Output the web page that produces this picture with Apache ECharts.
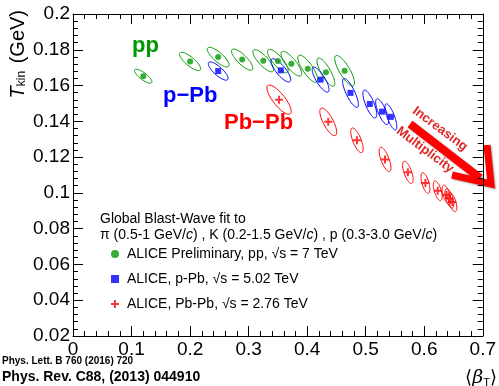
<!DOCTYPE html>
<html>
<head>
<meta charset="utf-8">
<script src="https://cdn.jsdelivr.net/npm/echarts@6/dist/echarts.min.js"></script>
<style>
html, body { margin: 0; padding: 0; background: #fff; }
#chart { width: 499px; height: 386px; }
</style>
</head>
<body>
<div id="chart"></div>
<script>
// pp 7 TeV (multiplicity classes)
var ppBeta = [0.120, 0.200, 0.248, 0.289, 0.325, 0.350, 0.373, 0.401, 0.432, 0.464];
var ppTkin = [0.1652, 0.1735, 0.1759, 0.1745, 0.1739, 0.1737, 0.1722, 0.1694, 0.1675, 0.1683];
var ppErrBeta = [0.0149, 0.0181, 0.0186, 0.0182, 0.0177, 0.0177, 0.0177, 0.0169, 0.0152, 0.0169];
var ppErrT = [0.0039, 0.0051, 0.0055, 0.0059, 0.0062, 0.0065, 0.0069, 0.0076, 0.0079, 0.0085];
var ppRho = [0.8, 0.8, 0.8, 0.8, 0.8, 0.8, 0.8, 0.8, 0.8, 0.8];

// p-Pb 5.02 TeV
var pPbBeta = [0.248, 0.355, 0.423, 0.474, 0.507, 0.528, 0.543];
var pPbTkin = [0.1681, 0.1685, 0.1633, 0.1559, 0.1497, 0.1454, 0.1425];
var pPbErrBeta = [0.0169, 0.0169, 0.0144, 0.0135, 0.0118, 0.0110, 0.0101];
var pPbErrT = [0.0051, 0.0065, 0.0070, 0.0081, 0.0078, 0.0072, 0.0073];
var pPbRho = [0.8, 0.8, 0.8, 0.8, 0.75, 0.75, 0.75];

// Pb-Pb 2.76 TeV (centrality classes)
var PbPbBeta = [0.352, 0.436, 0.485, 0.533, 0.572, 0.602, 0.623, 0.638, 0.643, 0.648];
var PbPbTkin = [0.1521, 0.1397, 0.1294, 0.1187, 0.1115, 0.1055, 0.1012, 0.0989, 0.0969, 0.0949];
var PbPbErrBeta = [0.0208, 0.0144, 0.0106, 0.0101, 0.0090, 0.0076, 0.0076, 0.0076, 0.0076, 0.0076];
var PbPbErrT = [0.0082, 0.0077, 0.0069, 0.0068, 0.0062, 0.0058, 0.0055, 0.0054, 0.0054, 0.0054];
var PbPbRho = [0.8, 0.75, 0.7, 0.7, 0.65, 0.6, 0.6, 0.6, 0.6, 0.6];

var xTicks = [0, 0.1, 0.2, 0.3, 0.4, 0.5, 0.6, 0.7];
var yTicks = [0.02, 0.04, 0.06, 0.08, 0.1, 0.12, 0.14, 0.16, 0.18, 0.2];

var ppName = 'ALICE Preliminary, pp, \u221As = 7 TeV';
var pPbName = 'ALICE, p-Pb, \u221As = 5.02 TeV';
var PbPbName = 'ALICE, Pb-Pb, \u221As = 2.76 TeV';

var green = '#009900';
var blue = '#0000ff';
var red = '#ff0000';
var font = 'Liberation Sans';
var crossIcon = 'path://M3,0H5V3H8V5H5V8H3V5H0V3H3Z';

var chart = echarts.init(document.getElementById('chart'));

function pairs(xs, ys) {
  return xs.map(function (x, i) { return [x, ys[i]]; });
}

function ellipseSeries(xs, ys, ex, ey, rho, color) {
  var data = xs.map(function (x, i) { return [x, ys[i], ex[i], ey[i], rho[i]]; });
  return {
    type: 'custom',
    data: data,
    z: 2,
    silent: true,
    renderItem: function (params, api) {
      var bx = api.value(0), t = api.value(1);
      var sx = api.value(2), sy = api.value(3), r = api.value(4);
      var k = Math.sqrt(1 - r * r);
      var pts = [];
      for (var i = 0; i < 60; i++) {
        var a = i / 60 * Math.PI * 2;
        pts.push(api.coord([bx + sx * Math.cos(a), t + sy * (-r * Math.cos(a) + k * Math.sin(a))]));
      }
      return {
        type: 'polygon',
        shape: { points: pts },
        style: { fill: 'none', stroke: color, lineWidth: 1 }
      };
    }
  };
}

function baseAxis(extra) {
  var ax = {
    type: 'value',
    axisLine: { show: true, onZero: false, lineStyle: { color: '#000', width: 1 } },
    axisTick: { show: true, inside: true, length: 10, lineStyle: { color: '#000' } },
    minorTick: { show: true, splitNumber: 5, length: 5, lineStyle: { color: '#000' } },
    splitLine: { show: false },
    axisLabel: { color: '#000', fontSize: 19, fontFamily: font }
  };
  return Object.assign(ax, extra);
}

var option = {
  animation: false,
  backgroundColor: '#fff',
  grid: { left: 73, right: 10, top: 14, bottom: 50 },
  xAxis: [
    baseAxis({ min: xTicks[0], max: xTicks[xTicks.length - 1], interval: 0.1, position: 'bottom',
      axisLabel: { color: '#000', fontSize: 19, fontFamily: font, margin: 4 } }),
    baseAxis({ min: xTicks[0], max: xTicks[xTicks.length - 1], interval: 0.1, position: 'top',
      axisLabel: { show: false } })
  ],
  yAxis: [
    baseAxis({ min: yTicks[0], max: yTicks[yTicks.length - 1], interval: 0.02, position: 'left',
      axisLabel: { color: '#000', fontSize: 19, fontFamily: font, margin: 3 } }),
    baseAxis({ min: yTicks[0], max: yTicks[yTicks.length - 1], interval: 0.02, position: 'right',
      axisLabel: { show: false } })
  ],
  legend: {
    orient: 'vertical',
    left: 106,
    top: 242,
    itemWidth: 8,
    itemHeight: 8,
    itemGap: 11,
    textStyle: { fontSize: 14, color: '#000', fontFamily: font, padding: [0, 0, 0, 3] },
    data: [
      { name: ppName, icon: 'circle', itemStyle: { color: green } },
      { name: pPbName, icon: 'rect', itemStyle: { color: blue } },
      { name: PbPbName, icon: crossIcon, itemStyle: { color: red } }
    ]
  },
  series: [
    ellipseSeries(ppBeta, ppTkin, ppErrBeta, ppErrT, ppRho, green),
    ellipseSeries(pPbBeta, pPbTkin, pPbErrBeta, pPbErrT, pPbRho, blue),
    ellipseSeries(PbPbBeta, PbPbTkin, PbPbErrBeta, PbPbErrT, PbPbRho, red),
    { name: ppName, type: 'scatter', z: 3, symbol: 'circle', symbolSize: 6,
      itemStyle: { color: green }, data: pairs(ppBeta, ppTkin) },
    { name: pPbName, type: 'scatter', z: 3, symbol: 'rect', symbolSize: 6,
      itemStyle: { color: blue }, data: pairs(pPbBeta, pPbTkin) },
    { name: PbPbName, type: 'scatter', z: 3, symbol: crossIcon, symbolSize: 8,
      itemStyle: { color: red }, data: pairs(PbPbBeta, PbPbTkin) }
  ],
  graphic: [
    // axis titles
    { type: 'text', x: 18, y: 10, rotation: Math.PI / 2,
      style: { text: '{i|T}{s|kin} (GeV)', align: 'right', verticalAlign: 'middle',
        font: '20px ' + font, fill: '#000',
        rich: { i: { fontSize: 20, fontStyle: 'italic', fontFamily: font },
                s: { fontSize: 12, fontFamily: font, padding: [8, 2, 0, 0] } } } },
    { type: 'text', x: 497, y: 378,
      style: { text: '\u27e8{i|\u03b2}{s|T}\u27e9', align: 'right', verticalAlign: 'middle',
        font: '18px ' + font, fill: '#000',
        rich: { i: { fontSize: 19, fontStyle: 'italic', fontFamily: 'DejaVu Serif' },
                s: { fontSize: 11, fontFamily: font, padding: [9, 0, 0, 0] } } } },
    // system labels
    { type: 'text', x: 132, y: 46,
      style: { text: 'pp', font: 'bold 22px ' + font, fill: green, verticalAlign: 'middle' } },
    { type: 'text', x: 163, y: 96,
      style: { text: 'p\u2212Pb', font: 'bold 22px ' + font, fill: blue, verticalAlign: 'middle' } },
    { type: 'text', x: 224, y: 123,
      style: { text: 'Pb\u2212Pb', font: 'bold 22px ' + font, fill: red, verticalAlign: 'middle' } },
    // fit description
    { type: 'text', x: 100, y: 219,
      style: { text: 'Global Blast-Wave fit to', font: '14px ' + font, fill: '#000', verticalAlign: 'middle' } },
    { type: 'text', x: 100, y: 235,
      style: { text: '\u03c0 (0.5-1 GeV/{i|c}) , K (0.2-1.5 GeV/{i|c}) , p (0.3-3.0 GeV/{i|c})',
        font: '14px ' + font, fill: '#000', verticalAlign: 'middle',
        rich: { i: { fontSize: 14, fontStyle: 'italic', fontFamily: font } } } },
    // increasing multiplicity arrow
    { type: 'polyline', shape: { points: [[410, 124], [480, 178]] },
      style: { stroke: red, lineWidth: 8, shadowColor: 'rgba(0,0,0,0.35)', shadowBlur: 2, shadowOffsetX: 1, shadowOffsetY: 1 } },
    { type: 'polyline', shape: { points: [[487, 145], [491, 184], [452, 175]] },
      style: { stroke: red, lineWidth: 7, lineJoin: 'miter', fill: 'none', shadowColor: 'rgba(0,0,0,0.35)', shadowBlur: 2, shadowOffsetX: 1, shadowOffsetY: 1 } },
    { type: 'text', x: 440, y: 129, rotation: -0.64,
      style: { text: 'Increasing', font: 'bold 13px ' + font, fill: '#e02828', align: 'center', verticalAlign: 'middle',
        shadowColor: 'rgba(0,0,0,0.4)', shadowBlur: 1, shadowOffsetX: 1, shadowOffsetY: 1 } },
    { type: 'text', x: 425, y: 150, rotation: -0.64,
      style: { text: 'Multiplicity', font: 'bold 13px ' + font, fill: '#e02828', align: 'center', verticalAlign: 'middle',
        shadowColor: 'rgba(0,0,0,0.4)', shadowBlur: 1, shadowOffsetX: 1, shadowOffsetY: 1 } },
    // references
    { type: 'text', x: 2, y: 361,
      style: { text: 'Phys. Lett. B 760 (2016) 720', font: 'bold 10px ' + font, fill: '#000', verticalAlign: 'middle' } },
    { type: 'text', x: 2, y: 377,
      style: { text: 'Phys. Rev. C88, (2013) 044910', font: 'bold 14px ' + font, fill: '#000', verticalAlign: 'middle' } }
  ]
};

chart.setOption(option);
</script>
</body>
</html>
